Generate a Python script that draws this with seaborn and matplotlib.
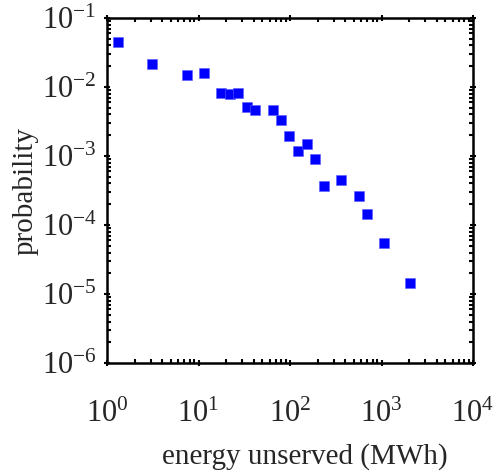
import numpy as np
import pandas as pd
import matplotlib
matplotlib.use('Agg')
import matplotlib.pyplot as plt
import matplotlib.ticker as mticker
import seaborn as sns

# values
energy = [1.33, 3.13, 7.49, 11.5, 17.7, 22.1, 27.0, 33.6, 41.8, 64.7, 79.8,
          98.4, 122, 152, 189, 235, 364, 563, 695, 1074, 2048]
prob = [0.0454, 0.0213, 0.0148, 0.0158, 0.00828, 0.00783, 0.0081, 0.00508,
        0.00464, 0.00459, 0.00336, 0.00197, 0.00119, 0.00148, 0.00091,
        0.000367, 0.000449, 0.000263, 0.000144, 5.42e-5, 1.46e-5]

df = pd.DataFrame({'energy': energy, 'prob': prob})

sns.set_style('ticks')
plt.rcParams['font.family'] = ['Liberation Serif', 'DejaVu Serif']
plt.rcParams['mathtext.fontset'] = 'stix'
plt.rcParams['axes.unicode_minus'] = False

fig = plt.figure(figsize=(5.0, 4.71), dpi=100)
ax = fig.add_axes([0.214, 0.229, 0.732, 0.733])

sns.scatterplot(data=df, x='energy', y='prob', marker='s', s=44,
                color='#0000ff', edgecolor='#5a5aff', linewidth=0.4, ax=ax, zorder=3)

ax.set_xscale('log')
ax.set_yscale('log')
ax.set_xlim(1, 1e4)
ax.set_ylim(1e-6, 1e-1)

ax.xaxis.set_major_locator(mticker.LogLocator(base=10, numticks=10))
ax.yaxis.set_major_locator(mticker.LogLocator(base=10, numticks=10))
ax.xaxis.set_minor_locator(mticker.LogLocator(base=10, subs=np.arange(2, 10), numticks=20))
ax.yaxis.set_minor_locator(mticker.LogLocator(base=10, subs=np.arange(2, 10), numticks=20))
ax.xaxis.set_minor_formatter(mticker.NullFormatter())
ax.yaxis.set_minor_formatter(mticker.NullFormatter())

for sp in ax.spines.values():
    sp.set_visible(True)
    sp.set_linewidth(1.8)
    sp.set_color('black')

ax.tick_params(which='both', top=True, right=True, color='black', width=1.5,
               labelsize=22)
ax.tick_params(which='major', length=5, direction='inout')
ax.tick_params(which='minor', length=3, direction='in')
ax.tick_params(axis='y', which='major', pad=5)
ax.tick_params(axis='x', which='major', pad=24)

ax.set_xlabel('energy unserved (MWh)', fontsize=21, labelpad=10)
ax.set_ylabel('probability', fontsize=21, labelpad=2)
ax.xaxis.label.set_x(0.54)

fig.savefig('out.png', dpi=100)
